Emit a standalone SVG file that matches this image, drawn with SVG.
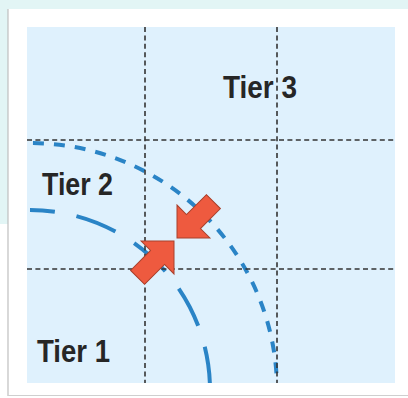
<svg xmlns="http://www.w3.org/2000/svg" width="408" height="398" viewBox="0 0 408 398">
<style>
.grid{stroke:#333;stroke-width:1.6;stroke-dasharray:5 3.4;fill:none}
.arcA{stroke:#2a84c6;stroke-width:4;fill:none;stroke-dasharray:11 10;stroke-dashoffset:18}
.arcB{stroke:#2a84c6;stroke-width:4;fill:none;stroke-dasharray:42 22;stroke-dashoffset:17}
.arrow{fill:#ee5a3f;stroke:#a8402c;stroke-width:1;stroke-linejoin:miter}
.lbl{font-family:"Liberation Sans",Arial,sans-serif;font-weight:bold;font-size:31px;fill:#262626}
</style>
<defs>
<clipPath id="sq"><rect x="27" y="27" width="368" height="356"/></clipPath>
<polygon id="arr" points="0,0 23.3,-23.3 23.3,-9.9 51.5,-9.9 51.5,9.9 23.3,9.9 23.3,23.3"/>
</defs>
<rect width="408" height="398" fill="#ffffff"/>
<rect x="0" y="0" width="408" height="9" fill="#e2f5f5"/>
<rect x="0" y="0" width="8" height="224" fill="#e2f5f5"/>
<line x1="8" y1="9" x2="8" y2="396" stroke="#bfbfbf" stroke-width="1.2"/>
<line x1="8" y1="395.5" x2="408" y2="395.5" stroke="#cfcfcf" stroke-width="1"/>
<rect id="panel" x="27" y="27" width="368" height="356" fill="#dff1fd"/>
<g id="connectors">
<g clip-path="url(#sq)">
<path class="arcA" d="M30 143 A247 247 0 0 1 277 390"/>
<path class="arcB" d="M30 210 A180 180 0 0 1 210 390"/>
</g>
</g>
<g id="grid">
<line class="grid" x1="145" y1="27" x2="145" y2="383"/>
<line class="grid" x1="277" y1="27" x2="277" y2="383"/>
<line class="grid" x1="27" y1="140" x2="395" y2="140"/>
<line class="grid" x1="27" y1="269" x2="395" y2="269"/>
</g>
<g id="arrow-in-upper">
<use href="#arr" class="arrow" transform="translate(177,238) rotate(-45)"/>
</g>
<g id="arrow-in-lower">
<use href="#arr" class="arrow" transform="translate(174,241) rotate(135)"/>
</g>
<g id="tier3"><text class="lbl" x="223" y="98" textLength="74" lengthAdjust="spacingAndGlyphs">Tier 3</text></g>
<g id="tier2"><text class="lbl" x="42" y="195" textLength="71" lengthAdjust="spacingAndGlyphs">Tier 2</text></g>
<g id="tier1"><text class="lbl" x="37" y="362" textLength="73" lengthAdjust="spacingAndGlyphs">Tier 1</text></g>
</svg>
